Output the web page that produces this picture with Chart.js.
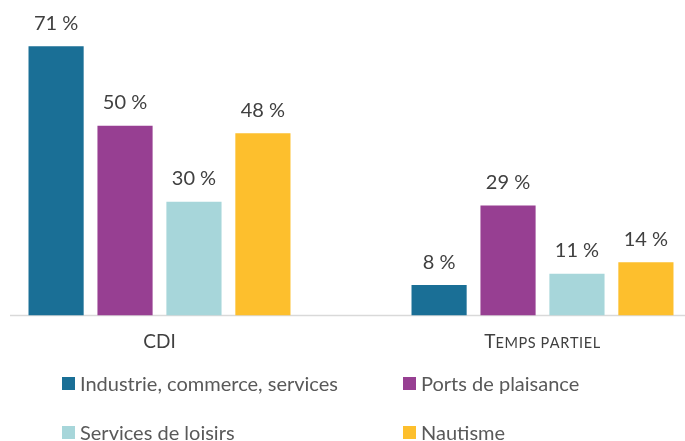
<!DOCTYPE html>
<html><head><meta charset="utf-8">
<script src="https://cdn.jsdelivr.net/npm/chart.js@4/dist/chart.umd.min.js"></script>
<style>
html,body{margin:0;padding:0;background:#fff;width:685px;height:441px;overflow:hidden;position:relative;font-family:Lato,"Open Sans",sans-serif;}
#wrap{position:absolute;left:-32px;top:0;width:766px;height:371px;}
#legend{position:absolute;left:0;top:365px;width:685px;height:76px;}
.li{position:absolute;display:flex;align-items:center;font-size:20px;color:#595959;white-space:nowrap;}
.sw{width:13px;height:13px;margin-right:5px;}
</style></head>
<body>
<div id="wrap"><canvas id="c"></canvas></div>
<div id="legend"></div>
<script>
const categories = ["CDI", "Temps partiel"];
const seriesNames = ["Industrie, commerce, services", "Ports de plaisance", "Services de loisirs", "Nautisme"];
const industrie = [71, 8];
const ports = [50, 29];
const loisirs = [30, 11];
const nautisme = [48, 14];
const colors = ["#1a6f96", "#973f92", "#a7d6da", "#fdbf2d"];

const seriesValues = [industrie, ports, loisirs, nautisme];
const FONT = 'Lato, "Open Sans", sans-serif';

const labelPlugin = {
  id: 'vlabels',
  afterDatasetsDraw(chart) {
    const ctx = chart.ctx;
    ctx.save();
    ctx.font = '20px ' + FONT;
    ctx.fillStyle = '#404040';
    ctx.textAlign = 'center';
    ctx.textBaseline = 'bottom';
    chart.data.datasets.forEach((ds, i) => {
      chart.getDatasetMeta(i).data.forEach((bar, j) => {
        ctx.fillText(ds.data[j] + ' %', bar.x, bar.y - 13);
      });
    });
    ctx.restore();
  }
};
const baselinePlugin = {
  id: 'baseline',
  beforeDatasetsDraw(chart) {
    const ctx = chart.ctx;
    const y = chart.scales.y.getPixelForValue(0);
    ctx.save();
    ctx.strokeStyle = '#d9d9d9';
    ctx.lineWidth = 1.5;
    ctx.beginPath();
    ctx.moveTo(42, y);
    ctx.lineTo(chart.width, y);
    ctx.stroke();
    ctx.restore();
  }
};
// category labels in small caps (capital letters full size, others as smaller capitals)
const catLabelPlugin = {
  id: 'catlabels',
  afterDraw(chart) {
    const ctx = chart.ctx;
    const xs = chart.scales.x;
    const y0 = chart.scales.y.getPixelForValue(0);
    const big = '19px ' + FONT, small = '14.5px ' + FONT, sp = 0.6;
    ctx.save();
    ctx.fillStyle = '#404040';
    ctx.textAlign = 'left';
    ctx.textBaseline = 'alphabetic';
    categories.forEach((c, i) => {
      const parts = [...c].map(ch => {
        const up = ch === ch.toUpperCase() && ch !== ' ';
        ctx.font = up ? big : small;
        const t = up ? ch : ch.toUpperCase();
        return { t, f: ctx.font, w: ctx.measureText(t).width + (up ? 0 : sp) };
      });
      const total = parts.reduce((a, p) => a + p.w, 0);
      let x = xs.getPixelForTick(i) - total / 2;
      parts.forEach(p => { ctx.font = p.f; ctx.fillText(p.t, x, y0 + 33); x += p.w; });
    });
    ctx.restore();
  }
};

new Chart(document.getElementById('c'), {
  type: 'bar',
  data: {
    labels: categories,
    datasets: seriesNames.map((n, i) => ({
      label: n, data: seriesValues[i], backgroundColor: colors[i],
      barPercentage: 0.8, categoryPercentage: 0.72
    }))
  },
  options: {
    responsive: true, maintainAspectRatio: false, animation: false,
    layout: { padding: { top: 12, left: 0, right: 0, bottom: 0 } },
    plugins: { legend: { display: false }, tooltip: { enabled: false } },
    scales: {
      x: {
        grid: { display: false, drawTicks: false }, border: { display: false },
        ticks: { padding: 17, color: 'rgba(0,0,0,0)', font: { family: FONT, size: 18 } }
      },
      y: { display: false, min: 0, max: 80 }
    }
  },
  plugins: [labelPlugin, baselinePlugin, catLabelPlugin]
});

const leg = document.getElementById('legend');
const pos = [[62, 19], [403, 19], [62, 68], [403, 68]];
seriesNames.forEach((n, i) => {
  const d = document.createElement('div');
  d.className = 'li';
  d.style.left = pos[i][0] + 'px';
  d.style.top = (pos[i][1] - 13) + 'px';
  d.innerHTML = '<span class="sw" style="background:' + colors[i] + '"></span>' + n;
  leg.appendChild(d);
});
</script>
</body></html>
